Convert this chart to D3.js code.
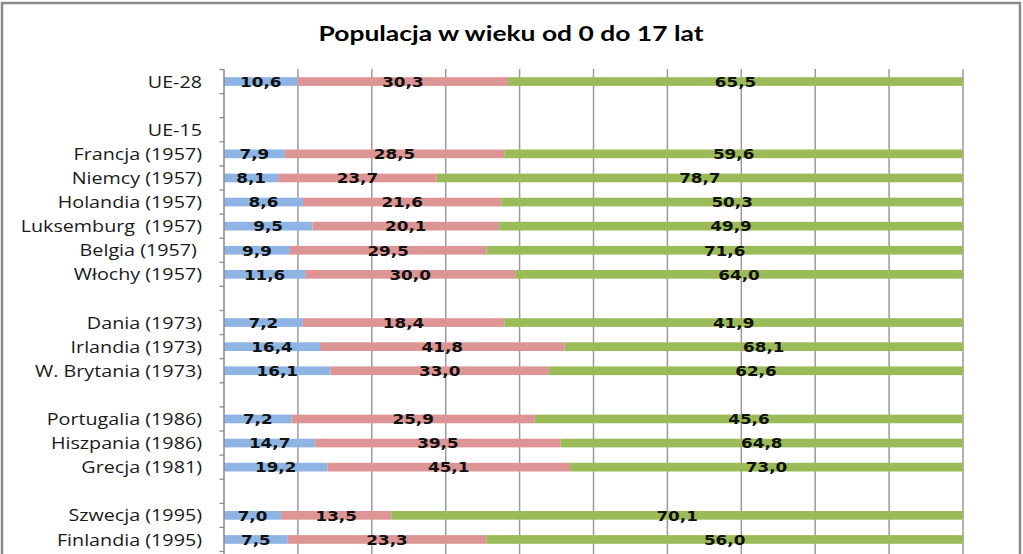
<!DOCTYPE html>
<html><head><meta charset="utf-8">
<script src="https://cdn.jsdelivr.net/npm/d3@7"></script>
<style>
html,body{margin:0;padding:0;background:#fff;}
svg{display:block;}
</style></head>
<body>
<svg id="chart" width="1023" height="554"></svg>
<script>
const title = "Populacja w wieku od 0 do 17 lat";
const categories = ["UE-28", "", "UE-15", "Francja (1957)", "Niemcy (1957)", "Holandia (1957)", "Luksemburg  (1957)", "Belgia (1957) ", "Włochy (1957)", " ", "Dania (1973)", "Irlandia (1973)", "W. Brytania (1973)", "  ", "Portugalia (1986)", "Hiszpania (1986)", "Grecja (1981)", "   ", "Szwecja (1995)", "Finlandia (1995)"];
const seriesA = [10.6, null, null, 7.9, 8.1, 8.6, 9.5, 9.9, 11.6, null, 7.2, 16.4, 16.1, null, 7.2, 14.7, 19.2, null, 7.0, 7.5];
const seriesB = [30.3, null, null, 28.5, 23.7, 21.6, 20.1, 29.5, 30.0, null, 18.4, 41.8, 33.0, null, 25.9, 39.5, 45.1, null, 13.5, 23.3];
const seriesC = [65.5, null, null, 59.6, 78.7, 50.3, 49.9, 71.6, 64.0, null, 41.9, 68.1, 62.6, null, 45.6, 64.8, 73.0, null, 70.1, 56.0];
const seriesKeys = ["a", "b", "c"];
const xTicks = [0, 0.1, 0.2, 0.3, 0.4, 0.5, 0.6, 0.7, 0.8, 0.9, 1.0];

const colors = {a: "#8EB4E3", b: "#DC9594", c: "#9BBB59"};

const rows = categories.map((c, i) => ({cat: c, a: seriesA[i], b: seriesB[i], c: seriesC[i]}));
const dataRows = rows.filter(r => r.a != null);

const svg = d3.select("#chart");
svg.append("rect").attr("width", 1023).attr("height", 554).attr("fill", "#fff");

// outer frame
svg.append("rect").attr("x", 2).attr("y", 3).attr("width", 1018).attr("height", 620)
  .attr("fill", "none").attr("stroke", "#8a8a8a").attr("stroke-width", 2.5);

// title
svg.append("text").attr("x", 511).attr("y", 41)
  .attr("text-anchor", "middle")
  .attr("font-family", "Lato, 'Open Sans', sans-serif")
  .attr("font-weight", "bold").attr("font-size", 20)
  .attr("textLength", 385).attr("lengthAdjust", "spacingAndGlyphs")
  .attr("fill", "#000").text(title);

const x = d3.scaleLinear().domain([0, 1]).range([224, 963]);
const y = d3.scaleBand().domain(categories).range([69.5, 551.5]).paddingInner(0.64).paddingOuter(0.32);

const yTop = 69, yBottom = 640;

// vertical gridlines
svg.append("g").selectAll("line").data(xTicks.filter(t => t > 0)).join("line")
  .attr("x1", d => x(d)).attr("x2", d => x(d))
  .attr("y1", yTop).attr("y2", yBottom)
  .attr("stroke", "#9a9a9a").attr("stroke-width", 1.5);

// stacked bars (100%)
const stack = d3.stack().keys(seriesKeys).offset(d3.stackOffsetExpand);
const stacked = stack(dataRows);

const g = svg.append("g");
stacked.forEach(layer => {
  g.append("g").selectAll("rect").data(layer).join("rect")
    .attr("x", d => x(d[0]))
    .attr("width", d => x(d[1]) - x(d[0]))
    .attr("y", d => y(d.data.cat))
    .attr("height", y.bandwidth())
    .attr("fill", colors[layer.key]);
});

// axis line
svg.append("line").attr("x1", x(0)).attr("x2", x(0)).attr("y1", yTop).attr("y2", yBottom)
  .attr("stroke", "#8a8a8a").attr("stroke-width", 1.5);

// y tick marks at category boundaries
const bounds = categories.map(c => y(c) - y.paddingOuter() * y.step());
bounds.push(bounds[bounds.length - 1] + y.step());
svg.append("g").selectAll("line").data(bounds).join("line")
  .attr("x1", x(0) - 4.5).attr("x2", x(0))
  .attr("y1", d => d).attr("y2", d => d)
  .attr("stroke", "#8a8a8a").attr("stroke-width", 1.3);

// category labels
svg.append("g").selectAll("text").data(categories).join("text")
  .attr("transform", d => `translate(202,${y(d) + y.bandwidth() / 2}) scale(1.16,1)`)
  .attr("dy", "0.36em")
  .attr("text-anchor", "end")
  .style("white-space", "pre")
  .attr("font-family", "'Open Sans', sans-serif")
  .attr("font-size", 17)
  .attr("fill", "#1a1a1a")
  .text(d => d);

// value labels
const fmt = v => d3.format(".1f")(v).replace(".", ",");
stacked.forEach(layer => {
  g.append("g").selectAll("text").data(layer).join("text")
    .attr("transform", d => `translate(${(x(d[0]) + x(d[1])) / 2},${y(d.data.cat) + y.bandwidth() / 2}) scale(1.2,1)`)
    .attr("dy", "0.38em")
    .attr("text-anchor", "middle")
    .attr("font-family", "'DejaVu Sans', Verdana, sans-serif")
    .attr("font-weight", "bold")
    .attr("font-size", 14)
    .attr("fill", "#111")
    .text(d => fmt(d.data[layer.key]));
});
</script>
</body></html>
